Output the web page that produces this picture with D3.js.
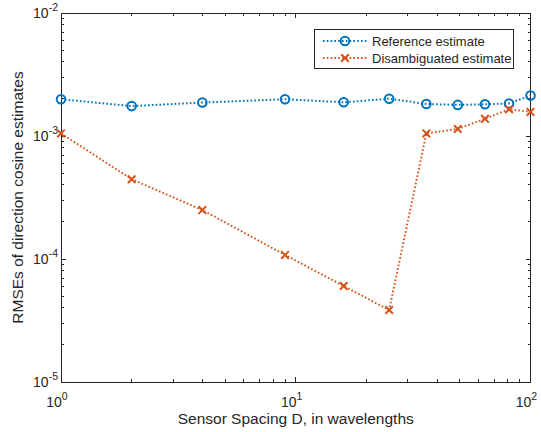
<!DOCTYPE html>
<html>
<head>
  <meta charset="utf-8">
  <title>RMSE vs Sensor Spacing</title>
  <style>
    body { margin: 0; background: #fff; }
    text { font-family: "Liberation Sans", Arial, Helvetica, sans-serif; fill: #262626; }
  </style>
</head>
<body>
  <script src="https://d3js.org/d3.v7.min.js"></script>
  <script type="text/javascript">

var spacing = [1, 2, 4, 9, 16, 25, 36, 49, 64, 81, 100];
var referenceRmse = [1.99e-3, 1.75e-3, 1.87e-3, 1.99e-3, 1.88e-3, 2.01e-3, 1.82e-3, 1.79e-3, 1.81e-3, 1.84e-3, 2.13e-3];
var disambigRmse = [1.05e-3, 4.45e-4, 2.50e-4, 1.08e-4, 6.03e-5, 3.85e-5, 1.05e-3, 1.14e-3, 1.38e-3, 1.65e-3, 1.57e-3];
var xTicks = [1, 10, 100];
var yTicks = [1e-5, 1e-4, 1e-3, 1e-2];
var seriesNames = ["Reference estimate", "Disambiguated estimate"];

var width = 541, height = 432;
var margin = {top: 13, right: 10, bottom: 50, left: 61};
var x0 = margin.left, x1 = width - margin.right - 0.5;
var y0 = height - margin.bottom, y1 = margin.top;

var blue = "#0072BD", orange = "#D95319", axisColor = "#262626";

var svg = d3.select("body").append("svg")
    .attr("width", width)
    .attr("height", height);

var x = d3.scaleLog().domain([1, 100]).range([x0, x1]);
var y = d3.scaleLog().domain([1e-5, 1e-2]).range([y0, y1]);

// minor ticks 2..9 per decade
function minors(lo, hi) {
  var out = [];
  for (var e = Math.log10(lo); e < Math.log10(hi); e++) {
    for (var m = 2; m <= 9; m++) out.push(m * Math.pow(10, e));
  }
  return out;
}

var tickLen = 5, minorLen = 3;
var g = svg.append("g").attr("stroke", axisColor).attr("stroke-width", 1).attr("shape-rendering", "crispEdges");

// box
g.append("rect").attr("x", x0).attr("y", y1).attr("width", x1 - x0).attr("height", y0 - y1).attr("fill", "none");

xTicks.forEach(function(t) {
  g.append("line").attr("x1", x(t)).attr("x2", x(t)).attr("y1", y0).attr("y2", y0 - tickLen);
  g.append("line").attr("x1", x(t)).attr("x2", x(t)).attr("y1", y1).attr("y2", y1 + tickLen);
});
minors(1, 100).forEach(function(t) {
  g.append("line").attr("x1", x(t)).attr("x2", x(t)).attr("y1", y0).attr("y2", y0 - minorLen);
  g.append("line").attr("x1", x(t)).attr("x2", x(t)).attr("y1", y1).attr("y2", y1 + minorLen);
});
yTicks.forEach(function(t) {
  g.append("line").attr("y1", y(t)).attr("y2", y(t)).attr("x1", x0).attr("x2", x0 + tickLen);
  g.append("line").attr("y1", y(t)).attr("y2", y(t)).attr("x1", x1).attr("x2", x1 - tickLen);
});
minors(1e-5, 1e-2).forEach(function(t) {
  g.append("line").attr("y1", y(t)).attr("y2", y(t)).attr("x1", x0).attr("x2", x0 + minorLen);
  g.append("line").attr("y1", y(t)).attr("y2", y(t)).attr("x1", x1).attr("x2", x1 - minorLen);
});

// tick labels, 10^n
function powLabel(sel, t) {
  var e = Math.round(Math.log10(t));
  sel.append("tspan").text("10");
  sel.append("tspan").attr("dy", -7).attr("font-size", "10.5px").text(e);
}
xTicks.forEach(function(t) {
  var tx = svg.append("text").attr("x", x(t) - 4).attr("y", 407)
      .attr("text-anchor", "middle").attr("font-size", "14px");
  powLabel(tx, t);
});
yTicks.forEach(function(t) {
  var tx = svg.append("text").attr("x", x0 - 3).attr("y", y(t) + 5)
      .attr("text-anchor", "end").attr("font-size", "14px");
  powLabel(tx, t);
});

// axis labels
svg.append("text").attr("x", (x0 + x1) / 2).attr("y", 424)
    .attr("text-anchor", "middle").attr("font-size", "15.5px")
    .text("Sensor Spacing D, in wavelengths");
svg.append("text")
    .attr("transform", "translate(23," + ((y0 + y1) / 2) + ") rotate(-90)")
    .attr("text-anchor", "middle").attr("font-size", "15.5px")
    .text("RMSEs of direction cosine estimates");

// series
var line = d3.line().x(function(d) { return x(d[0]); }).y(function(d) { return y(d[1]); });
var series = [
  {name: seriesNames[0], color: blue, marker: "circle", data: d3.zip(spacing, referenceRmse)},
  {name: seriesNames[1], color: orange, marker: "cross", data: d3.zip(spacing, disambigRmse)}
];

function drawMarker(sel, type, color, cx, cy) {
  if (type === "circle") {
    sel.append("circle").attr("cx", cx).attr("cy", cy).attr("r", 4.3)
        .attr("fill", "none").attr("stroke", color).attr("stroke-width", 2);
  } else {
    var s = 3.8;
    sel.append("path")
        .attr("d", "M" + (cx - s) + "," + (cy - s) + "L" + (cx + s) + "," + (cy + s) +
                   "M" + (cx - s) + "," + (cy + s) + "L" + (cx + s) + "," + (cy - s))
        .attr("stroke", color).attr("stroke-width", 2).attr("fill", "none");
  }
}

series.forEach(function(s) {
  svg.append("path").datum(s.data).attr("d", line)
      .attr("fill", "none").attr("stroke", s.color).attr("stroke-width", 2)
      .attr("stroke-dasharray", "1.6,2.2");
  s.data.forEach(function(d) { drawMarker(svg, s.marker, s.color, x(d[0]), y(d[1])); });
});

// legend
var lg = svg.append("g");
lg.append("rect").attr("x", 314.5).attr("y", 29.5).attr("width", 199).attr("height", 39)
    .attr("fill", "#fff").attr("stroke", axisColor).attr("stroke-width", 1);
series.forEach(function(s, i) {
  var ly = 41 + i * 17;
  lg.append("line").attr("x1", 323).attr("x2", 367).attr("y1", ly).attr("y2", ly)
      .attr("stroke", s.color).attr("stroke-width", 2).attr("stroke-dasharray", "1.6,2.2");
  drawMarker(lg, s.marker, s.color, 345, ly);
  lg.append("text").attr("x", 372).attr("y", ly + 4.5).attr("font-size", "13px").text(s.name);
});

  </script>
</body>
</html>
